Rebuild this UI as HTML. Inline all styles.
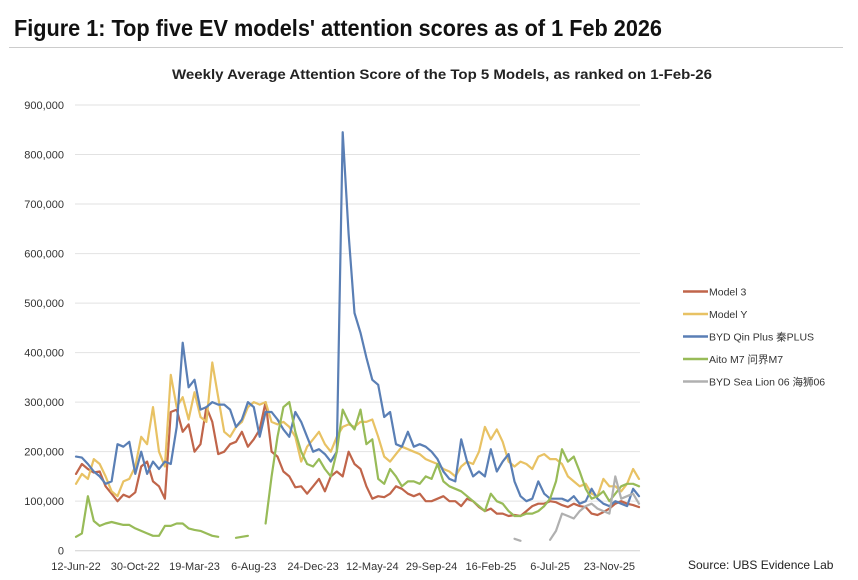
<!DOCTYPE html>
<html><head><meta charset="utf-8"><style>
html,body{margin:0;padding:0;background:#fff;}
svg{display:block;font-family:"Liberation Sans","Noto Sans CJK SC",sans-serif;}
</style></head><body>
<svg id="chart" width="858" height="580" viewBox="0 0 858 580">
<text x="14" y="36" font-size="23" font-weight="bold" fill="#111" textLength="648" lengthAdjust="spacingAndGlyphs">Figure 1: Top five EV models' attention scores as of 1 Feb 2026</text>
<line x1="9" y1="47.5" x2="843" y2="47.5" stroke="#ccc" stroke-width="1"/>
<text x="442" y="79" font-size="13.5" font-weight="bold" fill="#222" text-anchor="middle" textLength="540" lengthAdjust="spacingAndGlyphs">Weekly Average Attention Score of the Top 5 Models, as ranked on 1-Feb-26</text>
<g id="grid"></g>
<g id="yticks"></g>
<g id="xticks"></g>
<g id="series"></g>
<g id="legend"></g>
<text x="688" y="569" font-size="12" fill="#222">Source: UBS Evidence Lab</text>
</svg>
<script>
const yTicks = [0,100000,200000,300000,400000,500000,600000,700000,800000,900000];
const xLabels = ["12-Jun-22","30-Oct-22","19-Mar-23","6-Aug-23","24-Dec-23","12-May-24","29-Sep-24","16-Feb-25","6-Jul-25","23-Nov-25"];
const seriesNames = ["Model 3","Model Y","BYD Qin Plus 秦PLUS","Aito M7 问界M7","BYD Sea Lion 06 海狮06"];
const seriesColors = ["#c0654a","#e8c264","#5a7fb5","#98bb58","#b0b0b0"];
// values in thousands, biweekly samples
const model3 = [155,175,165,158,160,130,115,100,113,108,118,170,180,140,130,105,280,285,240,255,200,215,290,260,195,200,215,220,240,210,225,245,300,200,190,160,150,128,130,115,130,145,120,150,160,150,200,175,165,130,105,110,108,115,130,125,115,110,115,100,100,105,110,100,100,90,105,100,88,80,85,75,75,70,72,70,80,90,95,95,100,98,92,88,95,90,88,75,72,78,85,95,100,95,92,88];
const modelY = [135,155,145,185,175,150,120,110,140,145,170,230,215,290,200,170,355,290,310,265,320,270,260,380,310,240,230,250,260,290,300,295,300,260,255,260,250,230,180,210,225,240,215,200,230,250,255,250,260,260,265,230,190,180,195,210,205,200,195,185,180,175,165,160,150,170,180,175,200,250,225,245,220,180,170,180,175,165,190,195,185,185,175,150,140,130,135,115,110,145,130,130,120,135,165,145];
const qinPlus = [190,188,175,160,150,135,140,215,210,220,155,200,155,180,165,180,175,250,420,330,345,285,290,300,295,295,285,250,265,300,290,230,280,280,265,245,230,280,260,230,200,205,195,180,200,845,640,480,440,390,345,335,270,280,215,210,240,210,215,210,200,185,160,145,140,225,180,150,160,150,205,160,180,195,140,110,100,105,140,115,105,105,105,100,110,95,100,125,105,95,90,100,95,90,125,110];
const aitoM7 = [28,35,110,60,50,55,58,55,52,52,45,40,35,30,30,50,50,55,55,45,42,40,35,30,28,null,null,26,28,30,null,null,55,150,230,290,300,240,200,175,170,185,165,150,200,285,260,245,285,215,225,145,135,165,150,130,140,140,135,150,145,175,140,130,125,120,110,100,90,80,115,100,95,80,70,70,75,75,80,90,105,140,205,180,190,160,125,105,110,120,100,115,130,135,135,130];
const seaLion = [null,null,null,null,null,null,null,null,null,null,null,null,null,null,null,null,null,null,null,null,null,null,null,null,null,null,null,null,null,null,null,null,null,null,null,null,null,null,null,null,null,null,null,null,null,null,null,null,null,null,null,null,null,null,null,null,null,null,null,null,null,null,null,null,null,null,null,null,null,null,null,null,null,null,24,20,null,null,null,null,22,40,75,70,65,80,90,95,85,80,75,150,105,110,115,95];
const allSeries = [model3, modelY, qinPlus, aitoM7, seaLion];

const NS = "http://www.w3.org/2000/svg";
const X0 = 76, X1 = 639, Y0 = 550.7, Y900 = 105;
function yPos(v){ return Y0 - (v/900000)*(Y0-Y900); }
function xPos(i, n){ return X0 + i*(X1-X0)/(n-1); }
function mk(tag, attrs, parent){ const e=document.createElementNS(NS,tag); for(const k in attrs) e.setAttribute(k,attrs[k]); parent.appendChild(e); return e; }

const grid=document.getElementById('grid'), yt=document.getElementById('yticks'), xt=document.getElementById('xticks'), sg=document.getElementById('series'), lg=document.getElementById('legend');
yTicks.forEach(v=>{
  const y=yPos(v);
  const l=mk('line',{x1:75,x2:640,y1:y,y2:y,stroke:v===0?'#d0d0d0':'#e2e2e2','stroke-width':1},grid);
  
  
  const t=mk('text',{x:64,y:y+4,'font-size':11,fill:'#333','text-anchor':'end'},yt);
  t.textContent=v.toLocaleString('en-US');
  
  
});
const wk = (X1-X0)/190;
xLabels.forEach((s,i)=>{
  const t=mk('text',{x:X0+i*20*wk,y:570,'font-size':11,fill:'#333','text-anchor':'middle'},xt);
  t.textContent=s;
  
  
});
allSeries.forEach((arr,si)=>{
  let d='', pen=false;
  arr.forEach((v,i)=>{
    if(v===null){pen=false;return;}
    const x=xPos(i,arr.length), y=yPos(v*1000);
    d += (pen?'L':'M')+x.toFixed(1)+' '+y.toFixed(1)+' ';
    pen=true;
  });
  const p=mk('path',{d:d,fill:'none',stroke:seriesColors[si],'stroke-width':2.2,'stroke-linejoin':'round','stroke-linecap':'round'},sg);
  
  
});
seriesNames.forEach((n,i)=>{
  const y=291.5+i*22.5;
  const l=mk('line',{x1:683,x2:708,y1:y,y2:y,stroke:seriesColors[i],'stroke-width':2.5},lg);
  
  
  const t=mk('text',{x:709,y:y+4,'font-size':10.5,fill:'#333'},lg);
  t.textContent=n;
  
  
});
</script>
</body></html>
